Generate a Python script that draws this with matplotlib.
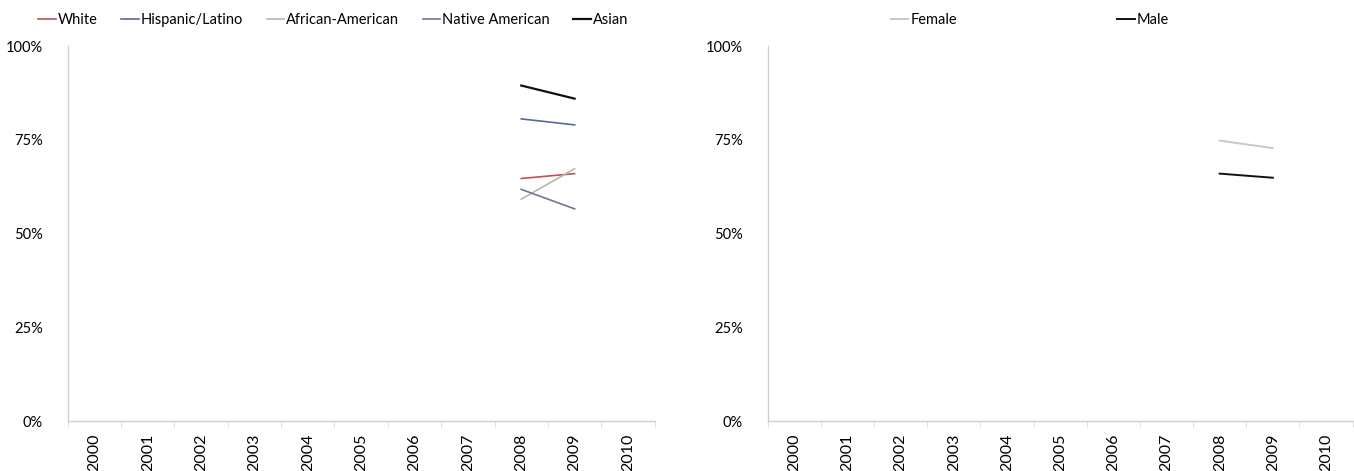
import numpy as np
import matplotlib
matplotlib.use("Agg")
import matplotlib.pyplot as plt
from matplotlib.ticker import PercentFormatter

plt.rcParams['font.family'] = ['Lato', 'DejaVu Sans']

# data
years = ['2000', '2001', '2002', '2003', '2004', '2005', '2006', '2007', '2008', '2009', '2010']
data_years = ['2008', '2009']

race_names = ['White', 'Hispanic/Latino', 'African-American', 'Native American', 'Asian']
white = [64.7, 66.0]
hispanic = [80.6, 79.0]
african_american = [59.2, 67.3]
native_american = [61.8, 56.6]
asian = [89.5, 86.0]

sex_names = ['Female', 'Male']
female = [74.8, 72.8]
male = [66.0, 64.9]

race_colors = ['#c0505a', '#5a6a94', '#b4b9a4', '#6d7898', '#111111']
race_widths = [1.2, 1.2, 1.2, 1.2, 1.6]
sex_colors = ['#c8c8c8', '#111111']

fig = plt.figure(figsize=(13.54, 4.71), dpi=100)
ax1 = fig.add_axes([0.050, 0.106, 0.4335, 0.796])
ax2 = fig.add_axes([0.567, 0.106, 0.432, 0.796])


def style(ax):
    ax.set_xlim(-0.5, len(years) - 0.5)
    ax.set_ylim(0, 100)
    ax.set_yticks([0, 25, 50, 75, 100])
    ax.yaxis.set_major_formatter(PercentFormatter(decimals=0))
    ax.set_xticks(range(len(years)))
    ax.set_xticklabels(years, rotation=90)
    ax.set_xticks(np.arange(-0.5, len(years)), minor=True)
    ax.tick_params(axis='x', which='major', length=0, pad=9, labelsize=11.5)
    ax.tick_params(axis='x', which='minor', length=4, color='#d8d8d8')
    ax.tick_params(axis='y', length=0, pad=18, labelsize=10.5)
    for s in ['top', 'right']:
        ax.spines[s].set_visible(False)
    for s in ['left', 'bottom']:
        ax.spines[s].set_color('#d0d0d0')
        ax.spines[s].set_linewidth(1.0)


xpos = [years.index(y) for y in data_years]

race_series = [white, hispanic, african_american, native_american, asian]
for name, vals, c, lw in zip(race_names, race_series, race_colors, race_widths):
    ax1.plot(xpos, vals, color=c, lw=lw, label=name)
style(ax1)
ax1.legend(loc='lower left', bbox_to_anchor=(-0.06, 1.035), ncol=5, frameon=False,
           handlelength=1.2, handletextpad=0.15, columnspacing=1.6, fontsize=10.5,
           borderaxespad=0)

sex_series = [female, male]
for name, vals, c in zip(sex_names, sex_series, sex_colors):
    ax2.plot(xpos, vals, color=c, lw=1.4, label=name)
style(ax2)
ax2.legend(loc='lower left', bbox_to_anchor=(0.2, 1.035), ncol=2, frameon=False,
           handlelength=1.2, handletextpad=0.15, columnspacing=11, fontsize=10.5,
           borderaxespad=0)

fig.savefig('out.png', dpi=100)
